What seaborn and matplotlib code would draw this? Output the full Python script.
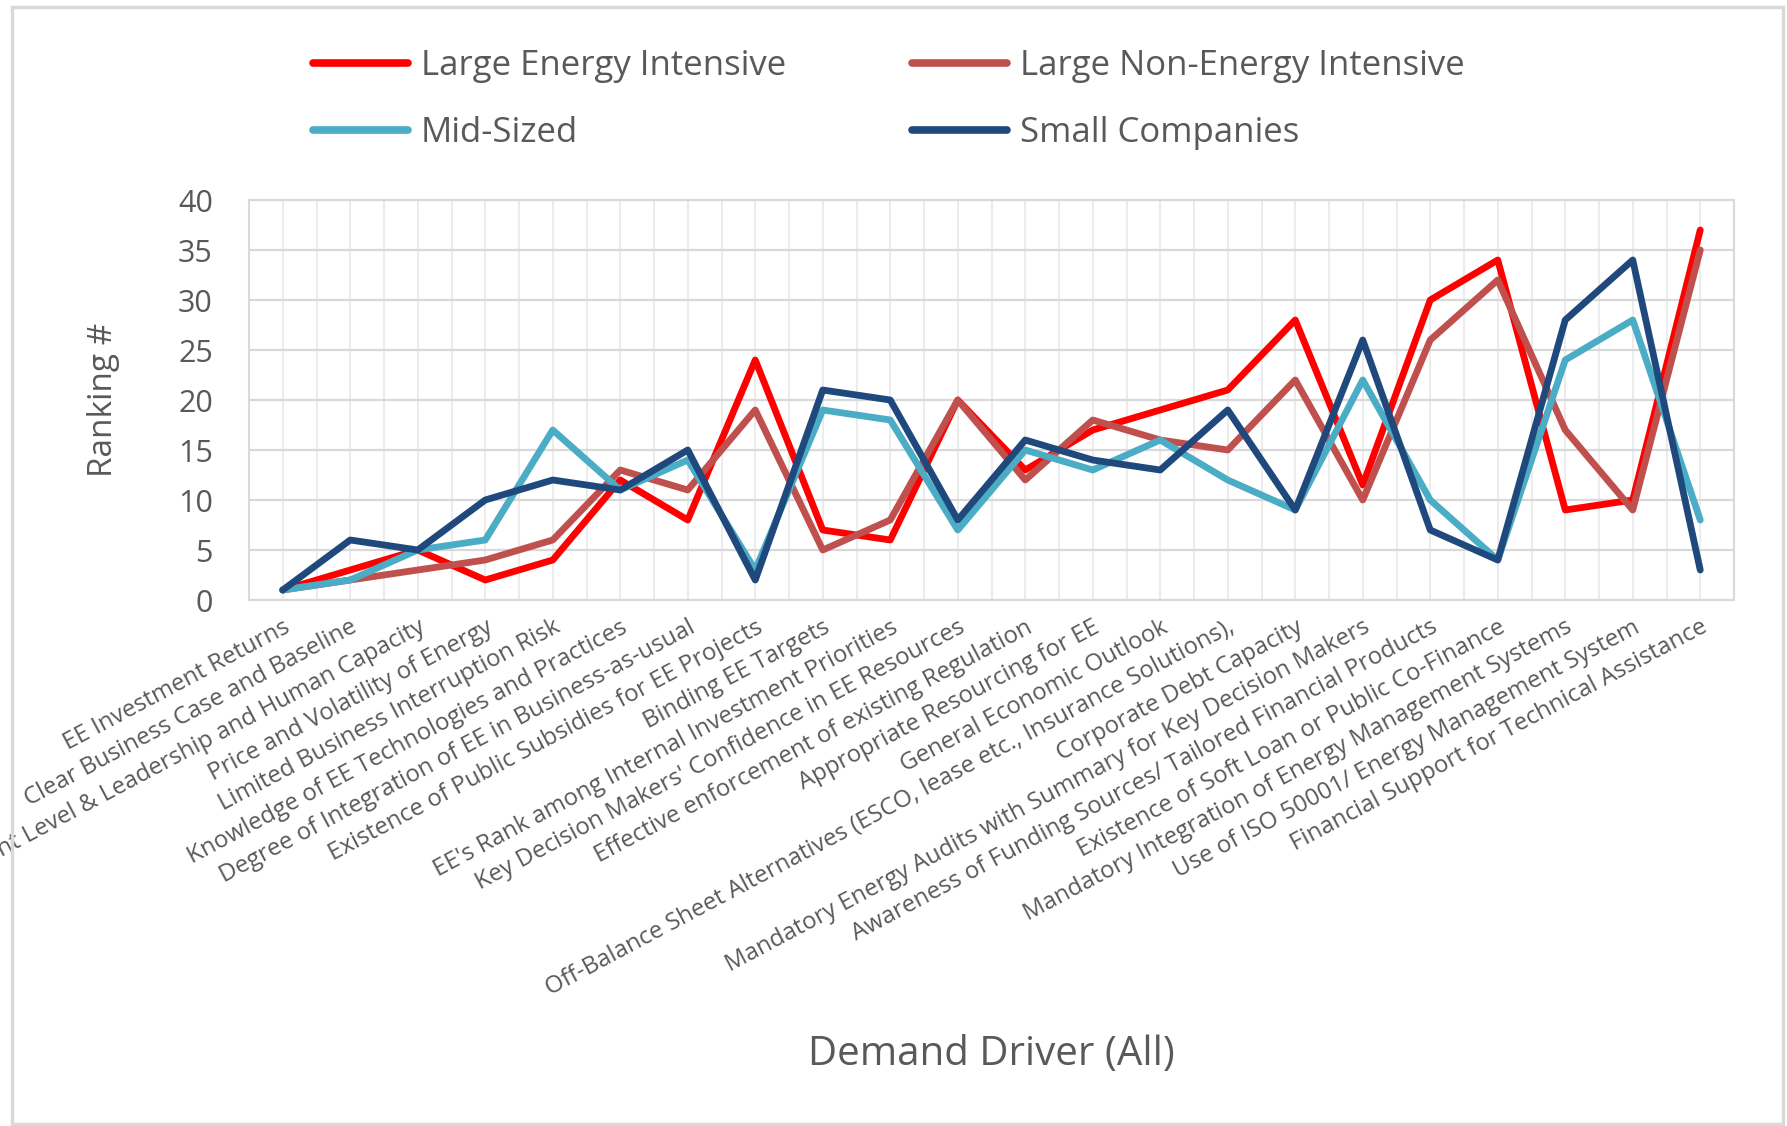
import numpy as np
import pandas as pd
import matplotlib
matplotlib.use("Agg")
import matplotlib.pyplot as plt
import matplotlib.patches as patches
import seaborn as sns

categories = [
    "EE Investment Returns",
    "Clear Business Case and Baseline",
    "Management Level & Leadership and Human Capacity",
    "Price and Volatility of Energy",
    "Limited Business Interruption Risk",
    "Knowledge of EE Technologies and Practices",
    "Degree of Integration of EE in Business-as-usual",
    "Existence of Public Subsidies for EE Projects",
    "Binding EE Targets",
    "EE's Rank among Internal Investment Priorities",
    "Key Decision Makers' Confidence in EE Resources",
    "Effective enforcement of existing Regulation",
    "Appropriate Resourcing for EE",
    "General Economic Outlook",
    "Off-Balance Sheet Alternatives (ESCO, lease etc., Insurance Solutions),",
    "Corporate Debt Capacity",
    "Mandatory Energy Audits with Summary for Key Decision Makers",
    "Awareness of Funding Sources/ Tailored Financial Products",
    "Existence of Soft Loan or Public Co-Finance",
    "Mandatory Integration of Energy Management Systems",
    "Use of ISO 50001/ Energy Management System",
    "Financial Support for Technical Assistance",
]

large_energy = [1, 3, 5, 2, 4, 12, 8, 24, 7, 6, 20, 13, 17, 19, 21, 28, 11.5, 30, 34, 9, 10, 37]
large_non_energy = [1, 2, 3, 4, 6, 13, 11, 19, 5, 8, 20, 12, 18, 16, 15, 22, 10, 26, 32, 17, 9, 35]
mid_sized = [1, 2, 5, 6, 17, 11, 14, 3, 19, 18, 7, 15, 13, 16, 12, 9, 22, 10, 4, 24, 28, 8]
small_companies = [1, 6, 5, 10, 12, 11, 15, 2, 21, 20, 8, 16, 14, 13, 19, 9, 26, 7, 4, 28, 34, 3]

series_names = ["Large Energy Intensive", "Large Non-Energy Intensive", "Mid-Sized", "Small Companies"]
series_colors = ["#FF0000", "#C0504D", "#4BACC6", "#1F497D"]
y_ticks = [0, 5, 10, 15, 20, 25, 30, 35, 40]

rows = []
for name, vals in zip(series_names, [large_energy, large_non_energy, mid_sized, small_companies]):
    for i, v in enumerate(vals):
        rows.append({"pos": i, "value": v, "series": name})
df = pd.DataFrame(rows)

sns.set_style("white")
plt.rcParams["font.family"] = ["Open Sans", "DejaVu Sans"]
TXT = "#595959"

W, H = 1787, 1126
fig = plt.figure(figsize=(W / 100, H / 100), dpi=100)
ax = fig.add_axes([249 / W, 1 - 600 / H, (1734 - 249) / W, 400 / H])

sns.lineplot(data=df, x="pos", y="value", hue="series", hue_order=series_names,
             palette=dict(zip(series_names, series_colors)), linewidth=4.9,
             ax=ax, sort=False, estimator=None)
handles, labels = ax.get_legend_handles_labels()
if ax.get_legend() is not None:
    ax.get_legend().remove()

n = len(categories)
ax.set_xlim(-0.5, n - 0.5)
ax.set_ylim(0, 40)
ax.set_yticks(y_ticks)
ax.set_xticks(np.arange(n))
ax.set_xticks(np.arange(-0.5, n, 1.0), minor=True)
ax.set_xticklabels(categories, rotation=28, ha="right", rotation_mode="anchor",
                   fontsize=17.3, color=TXT)
ax.tick_params(axis="x", which="both", length=0, pad=11)
ax.tick_params(axis="y", length=0, pad=26, labelsize=22, labelcolor=TXT)
ax.grid(axis="x", which="both", color="#EAEAEA", linewidth=1.3)
ax.grid(axis="y", which="major", color="#D9D9D9", linewidth=1.6)
ax.set_axisbelow(True)
for s in ax.spines.values():
    s.set_color("#D9D9D9")
    s.set_linewidth(1.5)

ax.set_ylabel("Ranking #", fontsize=24, color=TXT, va="center")
ax.yaxis.set_label_coords((103 - 249) / 1485, 0.5)
ax.set_xlabel("Demand Driver (All)", fontsize=29, color=TXT, va="center")
ax.xaxis.set_label_coords(0.5, (600 - 1055) / 400)

hmap = dict(zip(labels, handles))
leg_kw = dict(loc="upper left", frameon=False, borderpad=0, borderaxespad=0,
              handlelength=2.75, handletextpad=0.35, labelspacing=0.96,
              fontsize=25, labelcolor=TXT)
leg1 = fig.legend([hmap[series_names[0]], hmap[series_names[2]]],
                  [series_names[0], series_names[2]],
                  bbox_to_anchor=(313 / W, 1 - 49 / H), **leg_kw)
leg2 = fig.legend([hmap[series_names[1]], hmap[series_names[3]]],
                  [series_names[1], series_names[3]],
                  bbox_to_anchor=(912 / W, 1 - 49 / H), **leg_kw)
for lg in (leg1, leg2):
    for ln in lg.get_lines():
        ln.set_linewidth(5.5)

fig.patches.append(patches.Rectangle((12 / W, 1 - 1124 / H), (1783 - 12) / W, (1124 - 7) / H,
                                     transform=fig.transFigure, fill=False,
                                     edgecolor="#D9D9D9", linewidth=2.5))

fig.savefig("out.png", dpi=100, facecolor="white")
